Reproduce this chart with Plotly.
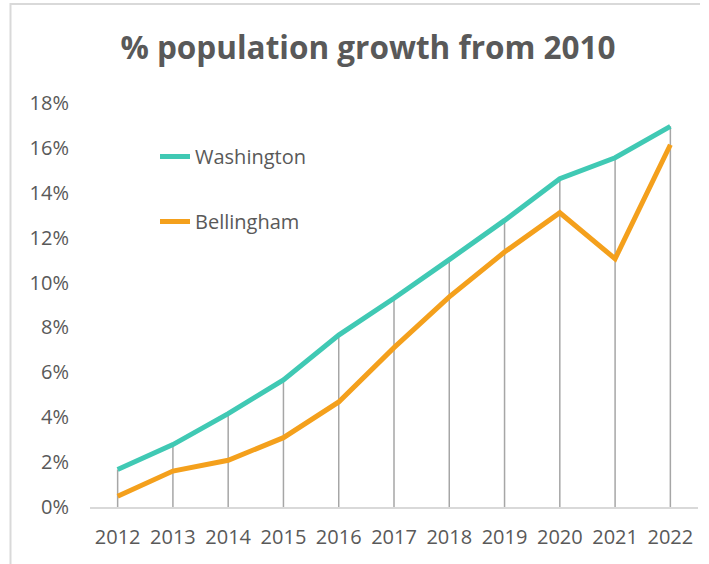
import plotly.graph_objects as go

years = ["2012", "2013", "2014", "2015", "2016", "2017", "2018", "2019", "2020", "2021", "2022"]
washington = [0.0167, 0.0278, 0.0416, 0.0566, 0.0766, 0.0930, 0.1102, 0.1277, 0.1463, 0.1556, 0.1696]
bellingham = [0.0048, 0.0160, 0.0208, 0.0309, 0.0468, 0.0710, 0.0936, 0.1136, 0.1311, 0.1106, 0.1614]

W, H = 709, 564
ML, MR, MT, MB = 90, 11, 103, 57

FONT = "Open Sans"
GREY_TXT = "#595959"

# drop lines from the highest series down to the axis
drop_x, drop_y = [], []
for yr, a, b in zip(years, washington, bellingham):
    drop_x += [yr, yr, None]
    drop_y += [0, max(a, b), None]

fig = go.Figure()
fig.add_trace(go.Scatter(x=drop_x, y=drop_y, mode="lines",
                         line=dict(color="#A6A6A6", width=1.5),
                         showlegend=False, hoverinfo="skip"))
fig.add_trace(go.Scatter(x=years, y=washington, mode="lines", name="Washington",
                         legendgroup="w",
                         line=dict(color="#40C9B4", width=5)))
fig.add_trace(go.Scatter(x=years, y=bellingham, mode="lines", name="Bellingham",
                         legendgroup="b",
                         line=dict(color="#F4A01C", width=5)))

pw = W - ML - MR
ph = H - MT - MB
def px(x):
    return (x - ML) / pw
def py(y):
    return (H - MB - y) / ph

fig.update_layout(
    width=W, height=H,
    margin=dict(l=ML, r=MR, t=MT, b=MB),
    paper_bgcolor="white", plot_bgcolor="white",
    font=dict(family=FONT, size=20, color=GREY_TXT),
    title=dict(text="<b>% population growth from 2010</b>",
               x=368 / W, xref="container", xanchor="center",
               y=1 - 48 / H, yref="container", yanchor="middle",
               font=dict(family=FONT, size=31.5, color=GREY_TXT)),
    showlegend=True,
    legend=dict(x=px(155), y=py(137), xanchor="left", yanchor="top",
                bgcolor="rgba(0,0,0,0)", tracegroupgap=36,
                font=dict(family=FONT, size=20, color=GREY_TXT)),
    xaxis=dict(type="category", range=[-0.5, 10.5], showgrid=False,
               showline=True, linecolor="#D9D9D9", linewidth=2,
               ticks="", ticklabelstandoff=11, zeroline=False,
               tickfont=dict(family=FONT, size=20, color=GREY_TXT)),
    yaxis=dict(range=[0, 0.18], dtick=0.02, tick0=0, tickformat=".0%",
               showgrid=False, zeroline=False, showline=False,
               ticks="", ticklabelstandoff=20,
               tickfont=dict(family=FONT, size=20, color=GREY_TXT)),
    shapes=[dict(type="path", xref="paper", yref="paper",
                 path=f"M {px(10.5)} {py(600)} L {px(10.5)} {py(4)} L {px(700)} {py(4)}",
                 line=dict(color="#D9D9D9", width=2), layer="below")],
)

fig.write_html("out.html",
               config={"displayModeBar": False},
               post_script="document.body.style.margin='0';document.body.style.overflow='hidden';")
